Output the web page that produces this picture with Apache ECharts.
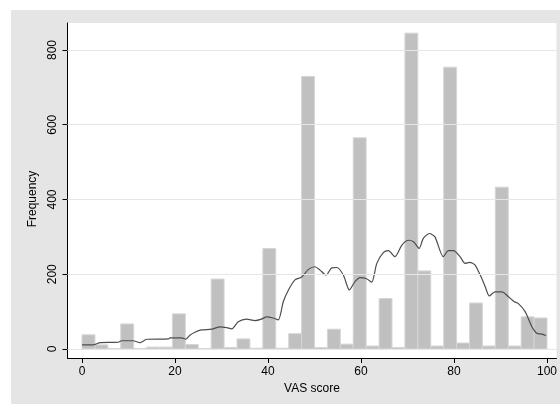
<!DOCTYPE html>
<html>
<head>
<meta charset="utf-8">
<script src="https://cdn.jsdelivr.net/npm/echarts@6/dist/echarts.min.js"></script>
<style>
html,body{margin:0;padding:0;background:#ffffff;}
#chart{width:560px;height:409px;}
</style>
</head>
<body>
<div id="chart"></div>
<script>
// Histogram: 36 equal bins from 0 to 100
const binStart = 0;
const binEnd = 100;
const counts = [38, 11, 1, 67, 1, 5, 5, 94, 12, 1, 187, 4, 27, 2, 269, 2, 41, 729,
                4, 53, 13, 565, 8, 135, 4, 845, 209, 8, 754, 16, 123, 8, 433, 8, 86, 83];
// Smoothed line overlay
const lineX = [0, 2.4, 3.9, 7.8, 8.5, 11.0, 12.5, 13.9, 18.6, 18.9, 21.4, 22.3, 23.2, 24.3, 25.7, 27.9,
               29.7, 31.1, 32.2, 33.6, 35.4, 37.2, 38.6, 39.7, 41.1, 42.2, 43.3, 44.4, 45.8, 47.2, 48.7,
               50.1, 51.2, 52.5, 53.7, 54.8, 56.2, 57.5, 58.7, 59.8, 61.2, 62.3, 63.4, 64.8, 65.9, 67.3,
               68.8, 70.2, 71.3, 72.5, 73.4, 74.7, 75.9, 77.7, 78.8, 79.9, 81.3, 82.4, 83.4, 84.5, 86.0,
               86.7, 87.6, 88.8, 90.3, 91.7, 92.9, 93.8, 95.3, 96.7, 97.8, 98.9, 99.8];
const lineY = [11, 11, 17, 18, 22, 22, 17, 26, 27, 30, 30, 26, 37, 45, 51, 53,
               59, 57, 54, 73, 80, 76, 80, 86, 83, 78, 127, 158, 185, 192, 213,
               220, 211, 198, 217, 218, 198, 158, 180, 191, 188, 179, 229, 258, 263, 247,
               278, 291, 287, 269, 296, 309, 300, 247, 263, 263, 247, 229, 232, 225, 188,
               167, 142, 153, 153, 140, 127, 122, 100, 61, 42, 40, 36];
const xTicks = [0, 20, 40, 60, 80, 100];
const yTicks = [0, 200, 400, 600, 800];

const binW = (binEnd - binStart) / counts.length;
const barData = counts.map((c, i) => [binStart + i * binW, binStart + (i + 1) * binW, c]);
const lineData = lineX.map((x, i) => [x, lineY[i]]);

const font = '"Liberation Sans", Arial, sans-serif';
const chart = echarts.init(document.getElementById('chart'), null, {renderer: 'canvas'});
chart.setOption({
  animation: false,
  backgroundColor: '#ffffff',
  graphic: [{
    type: 'rect', z: -5, silent: true,
    shape: {x: 11, y: 10, width: 549, height: 394},
    style: {fill: '#e5e5e5'}
  }],
  grid: {
    left: 67.5, right: 3.5, top: 23, bottom: 51,
    show: true, backgroundColor: '#ffffff', borderWidth: 0
  },
  xAxis: {
    type: 'value', min: -3.12, max: 102.04,
    name: 'VAS score', nameLocation: 'middle', nameGap: 25,
    nameTextStyle: {fontFamily: font, fontSize: 12, color: '#000'},
    axisLine: {show: true, onZero: false, lineStyle: {color: '#000', width: 1}},
    axisTick: {show: true, length: 5, customValues: xTicks, lineStyle: {color: '#000'}},
    axisLabel: {customValues: xTicks, margin: 8, fontFamily: font, fontSize: 12, color: '#000'},
    splitLine: {show: false}
  },
  yAxis: {
    type: 'value', min: -24.1, max: 872.2,
    name: 'Frequency', nameLocation: 'middle', nameGap: 23,
    nameTextStyle: {fontFamily: font, fontSize: 12, color: '#000', padding: [0, 0, 0, -17]},
    axisLine: {show: true, onZero: false, lineStyle: {color: '#000', width: 1}},
    axisTick: {show: true, length: 5, customValues: yTicks, lineStyle: {color: '#000'}},
    axisLabel: {customValues: yTicks, rotate: 90, margin: 9, fontFamily: font, fontSize: 12, color: '#000'},
    splitLine: {show: false}
  },
  series: [
    {
      type: 'line', data: [], z: 1, silent: true,
      markLine: {
        silent: true, symbol: 'none', label: {show: false},
        lineStyle: {color: '#e6e6e6', width: 1, type: 'solid'},
        data: yTicks.map(v => ({yAxis: v}))
      }
    },
    {
      type: 'custom', z: 2, silent: true,
      data: barData,
      renderItem: function (params, api) {
        const p0 = api.coord([api.value(0), api.value(2)]);
        const p1 = api.coord([api.value(1), 0]);
        return {
          type: 'rect',
          shape: {x: p0[0], y: p0[1], width: p1[0] - p0[0], height: p1[1] - p0[1]},
          style: {fill: '#c0c0c0', stroke: '#d6d6d6', lineWidth: 1}
        };
      }
    },
    {
      type: 'line', z: 3, data: lineData, symbol: 'none', smooth: 0.25,
      lineStyle: {color: '#4d4d4d', width: 1.2}
    }
  ]
});
</script>
</body>
</html>
